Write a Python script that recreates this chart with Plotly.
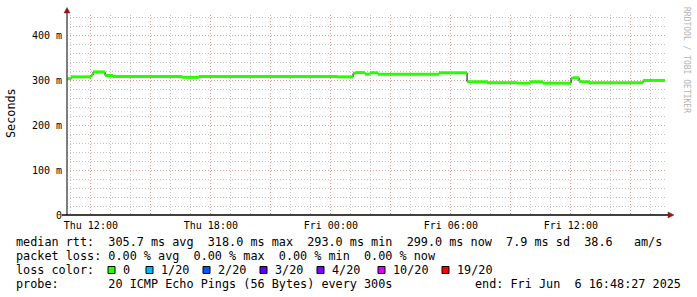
import plotly.graph_objects as go

# ---------------- data ----------------
# time in hours since Thu 00:00 (start of each constant median step)
step_start_hours = [10.81, 11.01, 12.01, 12.11, 12.71, 13.11, 16.56, 17.41,
                    24.31, 25.11, 25.26, 25.71, 25.96, 26.36, 29.41, 30.81,
                    31.81, 33.31, 33.96, 34.61, 36.01, 36.11, 36.41, 36.56,
                    36.91, 39.61]
median_rtt_ms = [303, 307, 311, 318, 310, 308, 306, 308,
                 307, 315, 316.5, 313, 316, 313, 316, 296,
                 294, 293, 296, 293, 304, 305, 297, 296,
                 294, 299]
last_sample_hour = 40.71

range_start_hour = 10.8075   # Thu 10:48:27
range_end_hour = 40.8075     # Fri 16:48:27

x_tick_hours = [12, 15, 18, 21, 24, 27, 30, 33, 36, 39]
x_tick_labels = ["Thu 12:00", "", "Thu 18:00", "", "Fri 00:00", "",
                 "Fri 06:00", "", "Fri 12:00", ""]
y_tick_values = [0, 100, 200, 300, 400]
y_tick_labels = ["0", "100 m", "200 m", "300 m", "400 m"]

legend_rows = [
    "median rtt:  305.7 ms avg  318.0 ms max  293.0 ms min  299.0 ms now  7.9 ms sd  38.6   am/s",
    "packet loss: 0.00 % avg  0.00 % max  0.00 % min  0.00 % now",
]
loss_labels = ["0", "1/20", "2/20", "3/20", "4/20", "10/20", "19/20"]
loss_colors = ["#26ff00", "#00b8ff", "#0059ff", "#5e00ff", "#7e00ff", "#dd00ff", "#ff0000"]
probe_text = "probe:       20 ICMP Echo Pings (56 Bytes) every 300s"
end_text = "end: Fri Jun  6 16:48:27 2025"

# ---------------- geometry helpers ----------------
W, H = 697, 297
L, R, T, B = 67, 667, 15, 215


def px(x):
    return (x - L) / (R - L)


def py(y):
    return (B - y) / (B - T)


MONO = "DejaVu Sans Mono"


def nb(s):
    return s.replace(" ", "\u00a0")


fig = go.Figure()

# thin black step line (transitions)
fig.add_trace(go.Scatter(
    x=step_start_hours + [last_sample_hour],
    y=median_rtt_ms + [median_rtt_ms[-1]],
    mode="lines", line=dict(color="#000000", width=1, shape="hv"),
    hoverinfo="skip", showlegend=False))

# green median segments (loss 0)
seg_x, seg_y = [], []
ends = step_start_hours[1:] + [last_sample_hour]
for t0, t1, v in zip(step_start_hours, ends, median_rtt_ms):
    seg_x += [t0, t1, None]
    seg_y += [v, v, None]
fig.add_trace(go.Scatter(
    x=seg_x, y=seg_y, mode="lines",
    line=dict(color=loss_colors[0], width=3),
    hoverinfo="skip", showlegend=False))

major_grid = "#e09a9a"
minor_grid = "#c4c4c4"
dash = "1px,2px"

fig.update_xaxes(
    range=[range_start_hour, range_end_hour],
    tickmode="array", tickvals=x_tick_hours, ticktext=x_tick_labels,
    showgrid=True, gridcolor=major_grid, gridwidth=1, griddash=dash,
    minor=dict(dtick=1, tick0=0, showgrid=True, gridcolor=minor_grid,
               gridwidth=1, griddash=dash),
    zeroline=False, showline=False, ticks="",
    ticklabelstandoff=3,
    tickfont=dict(family=MONO, size=10, color="#000000"),
)
fig.update_yaxes(
    range=[0, 444.44],
    tickmode="array", tickvals=y_tick_values, ticktext=y_tick_labels,
    showgrid=True, gridcolor=major_grid, gridwidth=1, griddash=dash,
    minor=dict(dtick=20, tick0=0, showgrid=True, gridcolor=minor_grid,
               gridwidth=1, griddash=dash),
    zeroline=False, showline=False, ticks="",
    ticklabelstandoff=4,
    tickfont=dict(family=MONO, size=10, color="#000000"),
)

shapes = [
    # left axis
    dict(type="line", xref="paper", yref="paper", x0=0, x1=0, y0=0, y1=py(11),
         line=dict(color="#555555", width=1.5)),
    # bottom axis
    dict(type="line", xref="paper", yref="paper", x0=px(62), x1=px(669), y0=0, y1=0,
         line=dict(color="#000000", width=1.5)),
    # arrows
    dict(type="path", xref="paper", yref="paper",
         path=f"M {px(64)},{py(13)} L {px(70)},{py(13)} L {px(67)},{py(7.5)} Z",
         fillcolor="#8b1a1a", line=dict(color="#8b1a1a", width=0.5)),
    dict(type="path", xref="paper", yref="paper",
         path=f"M {px(668)},{py(212)} L {px(668)},{py(218)} L {px(674)},{py(215)} Z",
         fillcolor="#8b1a1a", line=dict(color="#8b1a1a", width=0.5)),
]

annotations = []


def txt(x, y, s, size=11.8, xanchor="left", color="#000000", angle=0, yanchor="middle"):
    annotations.append(dict(
        xref="paper", yref="paper", x=px(x), y=py(y), text=nb(s),
        showarrow=False, xanchor=xanchor, yanchor=yanchor, textangle=angle,
        borderpad=0, borderwidth=0,
        font=dict(family=MONO, size=size, color=color)))


row_y = [241.5, 256, 270.3, 284.3]
txt(16, row_y[0], legend_rows[0])
txt(16, row_y[1], legend_rows[1])
txt(16, row_y[2], "loss color:")
box_x = [108, 146, 203, 260, 317, 378, 442]
for bx, lab, col in zip(box_x, loss_labels, loss_colors):
    shapes.append(dict(type="rect", xref="paper", yref="paper",
                       x0=px(bx), x1=px(bx + 7), y0=py(273.5), y1=py(266.5),
                       fillcolor=col, line=dict(color="#000000", width=1)))
    txt(bx + 14.5, row_y[2], lab)
txt(16, row_y[3], probe_text)
txt(681, row_y[3], end_text, xanchor="right")

# y title
txt(11, 113, "Seconds", angle=-90, xanchor="center")
# watermark
txt(686, 60, "RRDTOOL / TOBI OETIKER", size=8, angle=90, xanchor="center", color="#b4b4b4")

fig.update_layout(
    width=W, height=H,
    margin=dict(l=L, r=W - R, t=T, b=H - B, pad=0, autoexpand=False),
    plot_bgcolor="#ffffff", paper_bgcolor="#ffffff",
    showlegend=False, shapes=shapes, annotations=annotations,
)

fig.write_html("out.html")
